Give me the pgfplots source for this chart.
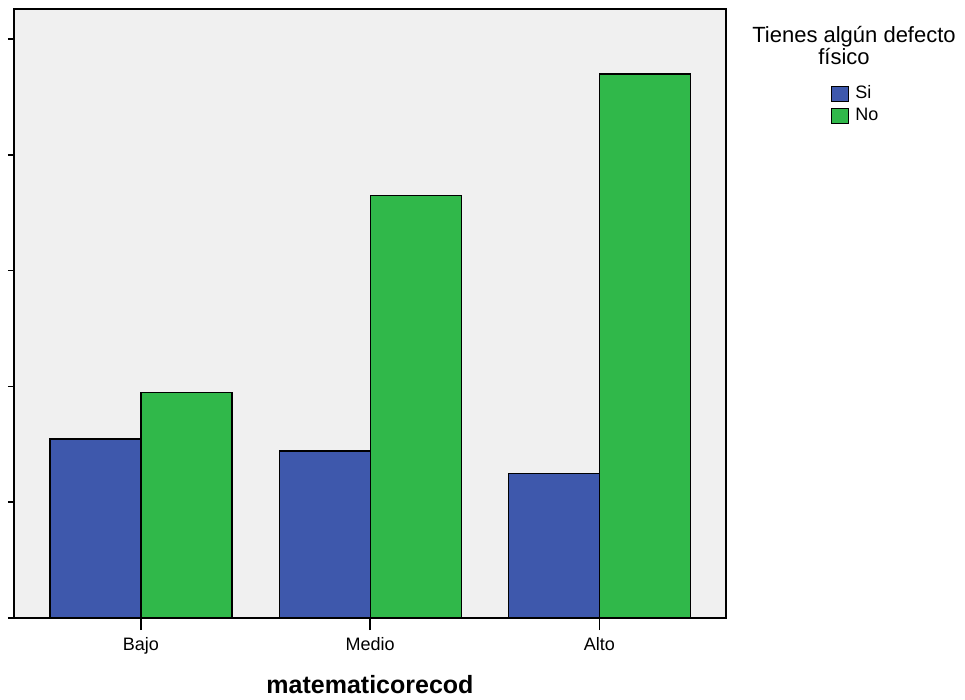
\documentclass[border=0pt]{standalone}
\usepackage{pgfplots}
\pgfplotsset{compat=1.18}
\usepackage{fontspec}
\setmainfont{Liberation Sans}
\definecolor{bgc}{RGB}{240,240,240}
\definecolor{siblue}{RGB}{62,88,172}
\definecolor{nogreen}{RGB}{48,184,74}
\pgfplotsset{sqlegend/.style={legend image code/.code={\draw[##1] (0bp,-7.5bp) rectangle (17bp,7.5bp);}}}
\begin{document}
\begin{tikzpicture}
\path[use as bounding box] (-14bp,-82bp) rectangle (951bp,618bp);
\begin{axis}[
 at={(0bp,0bp)}, anchor=south west,
 scale only axis, width=712bp, height=609bp,
 xmin=-0.554, xmax=2.552, ymin=0, ymax=52.6,
 xtick={0,1,2}, xticklabels={Bajo,Medio,Alto},
 ytick={0,10,20,30,40,50}, yticklabels={},
 tick pos=left,
 tick align=outside,
 xtick style={line width=1.5bp, black, /pgfplots/major tick length=12bp},
 ytick style={line width=1.5bp, black, /pgfplots/major tick length=6bp},
 axis line style={line width=1.5bp, black},
 axis background/.style={fill=bgc},
 axis on top,
 xticklabel style={anchor=base, yshift=-28bp, font=\fontsize{18bp}{18bp}\selectfont},
 xlabel={matematicorecod},
 xlabel style={at={(axis description cs:0.5,0)}, anchor=base, yshift=-75bp, font=\fontsize{25bp}{25bp}\selectfont\bfseries},
 legend style={at={(1.1475,0.8736)}, anchor=north west, draw=none, fill=none, inner sep=0pt, outer sep=0pt, row sep=5.7bp,
   font=\fontsize{18bp}{18bp}\selectfont,
   nodes={inner sep=0pt, text height=12bp, text depth=3bp},
   /tikz/every odd column/.append style={column sep=6bp}},
 legend cell align=left,
]
\addplot[ybar, sqlegend, bar width=0.397, bar shift=-0.1985, fill=siblue, draw=black, line width=1.3bp]
 coordinates {(0,15.45) (1,14.43) (2,12.48)};
\addplot[ybar, sqlegend, bar width=0.397, bar shift=0.1985, fill=nogreen, draw=black, line width=1.3bp]
 coordinates {(0,19.45) (1,36.47) (2,46.99)};
\legend{Si,No}
\end{axis}
\node[anchor=base, font=\fontsize{22bp}{22bp}\selectfont, inner sep=0pt] at (840bp,575.7bp) {Tienes algún defecto};
\node[anchor=base, font=\fontsize{22bp}{22bp}\selectfont, inner sep=0pt] at (830bp,553bp) {físico};
\end{tikzpicture}
\end{document}
